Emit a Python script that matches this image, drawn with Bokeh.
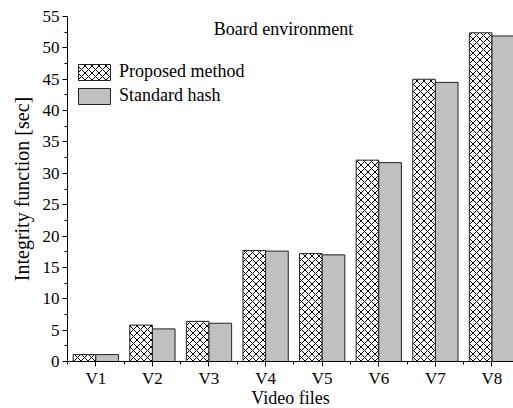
from bokeh.plotting import figure
from bokeh.models import (ColumnDataSource, FixedTicker, Legend,
                          LegendItem, Label, Range1d)
from bokeh.embed import file_html
from bokeh.resources import INLINE

categories = ["V1", "V2", "V3", "V4", "V5", "V6", "V7", "V8"]
proposed = [1.1, 5.8, 6.4, 17.7, 17.2, 32.1, 45.0, 52.4]
standard = [1.1, 5.2, 6.1, 17.6, 17.0, 31.7, 44.5, 51.9]
y_ticks = [0, 5, 10, 15, 20, 25, 30, 35, 40, 45, 50, 55]

pos = list(range(1, len(categories) + 1))
BW = 0.4
src = ColumnDataSource(dict(
    xp=[p - BW / 2 for p in pos],
    xs=[p + BW / 2 for p in pos],
    proposed=proposed,
    standard=standard,
))

FONT = "Liberation Serif"

p = figure(frame_width=446, frame_height=345, output_backend="svg",
           toolbar_location=None, x_range=Range1d(0.5, 8.38), y_range=Range1d(0, 55),
           min_border_top=16, min_border_right=0, min_border_left=67, min_border_bottom=0)

rp = p.vbar(x="xp", top="proposed", width=BW, source=src, fill_color="white",
            line_color="#222222", line_width=1, hatch_pattern="diagonal_cross",
            hatch_color="black", hatch_scale=7, hatch_weight=1)
rs = p.vbar(x="xs", top="standard", width=BW, source=src, fill_color="#c0c0c0",
            line_color="#222222", line_width=1)

p.xgrid.visible = False
p.ygrid.visible = False
p.outline_line_color = None

p.xaxis.ticker = FixedTicker(ticks=pos, minor_ticks=[x + 0.5 for x in range(0, 9)])
p.xaxis.major_label_overrides = {i: c for i, c in zip(pos, categories)}
p.yaxis.ticker = FixedTicker(ticks=y_ticks, minor_ticks=[t + 2.5 for t in y_ticks[:-1]])

for ax in (p.xaxis[0], p.yaxis[0]):
    ax.axis_line_color = "black"
    ax.major_tick_line_color = "black"
    ax.minor_tick_line_color = "black"
    ax.major_tick_in = 0
    ax.major_tick_out = 5
    ax.minor_tick_in = 0
    ax.minor_tick_out = 3
    ax.major_label_text_font = FONT
    ax.major_label_text_font_size = "17px"
    ax.major_label_text_color = "black"
    ax.axis_label_text_font = FONT
    ax.axis_label_text_font_style = "normal"
    ax.axis_label_text_color = "black"

p.xaxis.axis_label_text_font_size = "18px"
p.yaxis.axis_label_text_font_size = "20px"
p.xaxis.axis_label = "Video files"
p.yaxis.axis_label = "Integrity function [sec]"
p.xaxis.major_label_standoff = 2
p.xaxis.axis_label_standoff = -3
p.yaxis.major_label_standoff = 3
p.yaxis.axis_label_standoff = 7

legend = Legend(items=[LegendItem(label="Proposed method", renderers=[rp]),
                       LegendItem(label="Standard hash", renderers=[rs])],
                location=(7, 255), glyph_width=40, glyph_height=20, spacing=3,
                padding=0, margin=0, label_standoff=5, label_height=20,
                label_text_font=FONT, label_text_font_size="18px",
                label_text_color="black", border_line_alpha=0,
                background_fill_alpha=0)
p.add_layout(legend, "center")

p.add_layout(Label(x=216, y=333, x_units="screen", y_units="screen",
                   text="Board environment", text_font=FONT,
                   text_font_size="18px", text_align="center",
                   text_baseline="middle", text_color="black"))

open("out.html", "w").write(file_html(p, INLINE))
